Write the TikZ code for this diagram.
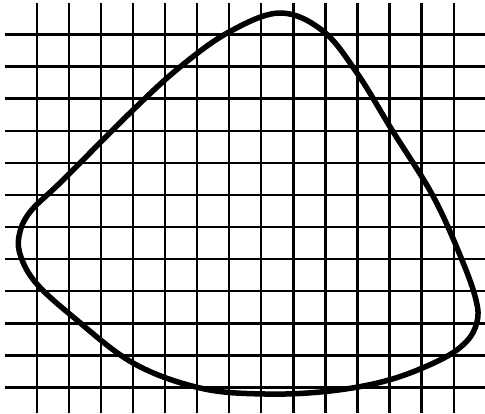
\documentclass[tikz,border=0pt]{standalone}
\begin{document}
\begin{tikzpicture}[x=1pt,y=-1pt,
  gridline/.style={line width=2.4pt,black},
  blob/.style={line width=5.5pt,black,line join=round}]
\useasboundingbox (0,0) rectangle (485,413);
\foreach \i in {0,...,13}{
  \draw[gridline] ({36.8+32.07*\i},3) -- ({36.8+32.07*\i},413);
}
\foreach \j in {0,...,11}{
  \draw[gridline] (5,{34.4+32.1*\j}) -- (485,{34.4+32.1*\j});
}
\draw[blob] plot[smooth cycle, tension=0.6] coordinates {
 (280,13) (323,31) (357,73) (392,130) (433,196) (462,260)
 (476,300) (477,322) (466,342) (440,360) (389,380) (330,391)
 (265,394) (200,388) (133,363) (72,316) (36,283) (21,257)
 (19,236) (30,212) (63,180) (133,110) (180,67) (229,32)
};
\end{tikzpicture}
\end{document}
